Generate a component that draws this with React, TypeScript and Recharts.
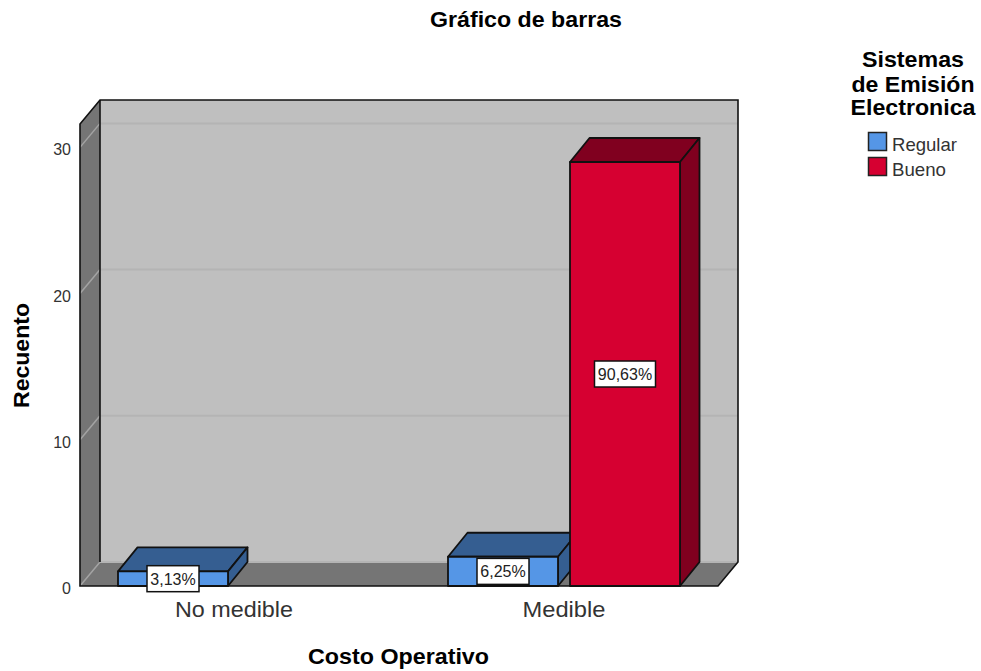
import { BarChart, Bar, XAxis, YAxis, Legend, LabelList, usePlotArea } from "recharts";

const categories = ["No medible", "Medible"];
const regularValues = [1, 2];
const buenoValues = [null, 29];
const regularLabels = ["3,13%", "6,25%"];
const buenoLabels = [null, "90,63%"];
const yTicks = [0, 10, 20, 30];
const yMax = 31.6;

const chartData = categories.map((name, i) => ({
    name,
    regular: regularValues[i],
    bueno: buenoValues[i],
    regularLabel: regularLabels[i],
    buenoLabel: buenoLabels[i],
}));

const SANS = "'Liberation Sans', Arial, sans-serif";
const BLUE = "#5596e6";
const BLUE_DARK = "#355e91";
const RED = "#d60031";
const RED_DARK = "#80001f";
const WALL = "#bfbfbf";
const SIDE = "#757575";
const DEPTH_X = 20;
const DEPTH_Y = 24;
const BAR_DEPTH_X = 19.5;
const BAR_DEPTH_Y = 24;
// the drawn frame sits a bit inside the band range
const INSET = 11;

// the original export has stretched text, so strings are fitted to their measured width
function Fit({ x, y, w, size, bold, color = "#000", anchor = "middle", rotate, children }: any) {
    return (
        <text
            x={x}
            y={y}
            textAnchor={anchor}
            fontFamily={SANS}
            fontSize={size}
            fontWeight={bold ? 700 : 400}
            fill={color}
            textLength={w}
            lengthAdjust="spacingAndGlyphs"
            transform={rotate ? `rotate(${rotate} ${x} ${y})` : undefined}
        >
            {children}
        </text>
    );
}

function Walls() {
    const plot = usePlotArea();
    if (!plot) return null;
    const left = plot.x + INSET;
    const right = plot.x + plot.width - INSET;
    const top = plot.y;
    const base = plot.y + plot.height;
    const yOf = (v: number) => base - (v / yMax) * plot.height;
    return (
        <g>
            <rect x={left + DEPTH_X} y={top - DEPTH_Y} width={right - left} height={base - top} fill={WALL} />
            <polygon
                points={`${left},${base} ${left},${top} ${left + DEPTH_X},${top - DEPTH_Y} ${left + DEPTH_X},${base - DEPTH_Y}`}
                fill={SIDE}
            />
            <polygon
                points={`${left},${base} ${left + DEPTH_X},${base - DEPTH_Y} ${right + DEPTH_X},${base - DEPTH_Y} ${right},${base}`}
                fill={SIDE}
            />
            {yTicks.map((v) => (
                <g key={v} fill="none">
                    <line
                        x1={left}
                        y1={yOf(v)}
                        x2={left + DEPTH_X}
                        y2={yOf(v) - DEPTH_Y}
                        stroke="#a3a3a3"
                        strokeWidth={1.5}
                    />
                    <line
                        x1={left + DEPTH_X}
                        y1={yOf(v) - DEPTH_Y}
                        x2={right + DEPTH_X}
                        y2={yOf(v) - DEPTH_Y}
                        stroke="#b4b4b4"
                        strokeWidth={2}
                    />
                </g>
            ))}
            <path
                d={`M${left},${base} V${top} L${left + DEPTH_X},${top - DEPTH_Y} H${right + DEPTH_X} V${base - DEPTH_Y} L${right},${base} Z`}
                fill="none"
                stroke="#111"
                strokeWidth={1.6}
            />
            <path
                d={`M${left + DEPTH_X},${top - DEPTH_Y} V${base - DEPTH_Y}`}
                fill="none"
                stroke="#111"
                strokeWidth={1.6}
            />
        </g>
    );
}

function Bar3D(props: any) {
    const { x, y, width, height, fill, dark } = props;
    if (!height) return null;
    const r = x + width;
    const b = y + height;
    const dx = BAR_DEPTH_X;
    const dy = BAR_DEPTH_Y;
    return (
        <g stroke="#111" strokeWidth={1.8} strokeLinejoin="round">
            <polygon points={`${x},${y} ${x + dx},${y - dy} ${r + dx},${y - dy} ${r},${y}`} fill={dark} />
            <polygon points={`${r},${y} ${r + dx},${y - dy} ${r + dx},${b - dy} ${r},${b}`} fill={dark} />
            <rect x={x} y={y} width={width} height={height} fill={fill} />
        </g>
    );
}

function PercentTag(props: any) {
    const { x, y, width, height, value } = props;
    if (!value) return null;
    const cx = x + width / 2;
    const cy = y + height / 2;
    const w = value.length > 5 ? 61 : 52;
    return (
        <g>
            <rect x={cx - w / 2} y={cy - 13} width={w} height={26} fill="#fff" stroke="#111" strokeWidth={1.5} />
            <text x={cx} y={cy + 6} textAnchor="middle" fontFamily={SANS} fontSize={16} fill="#222">
                {value}
            </text>
        </g>
    );
}

function YTick({ x, y, payload }: any) {
    return (
        <text x={x + 2} y={y + 8} textAnchor="end" fontFamily={SANS} fontSize={16} fill="#333">
            {payload.value}
        </text>
    );
}

const tickWidths: Record<string, number> = { "No medible": 118, Medible: 83 };

function XTick({ x, y, payload }: any) {
    return (
        <Fit x={x} y={y + 31} w={tickWidths[payload.value]} size={22} color="#333">
            {payload.value}
        </Fit>
    );
}

const legendTitle = [
    { text: "Sistemas", w: 102, y: 27 },
    { text: "de Emisión", w: 123, y: 52 },
    { text: "Electronica", w: 125, y: 75 },
];
const legendWidths = [65, 54];

function LegendBox({ payload }: any) {
    return (
        <svg width={131} height={145} style={{ display: "block" }}>
            {legendTitle.map((line) => (
                <Fit key={line.text} x={63} y={line.y} w={line.w} size={21.5} bold>
                    {line.text}
                </Fit>
            ))}
            {(payload ?? []).map((item: any, i: number) => (
                <g key={item.value}>
                    <rect
                        x={18.5}
                        y={92.5 + i * 25}
                        width={18}
                        height={18}
                        fill={item.color}
                        stroke="#222"
                        strokeWidth={1.5}
                    />
                    <Fit x={42} y={111 + i * 25} w={legendWidths[i]} size={18.5} anchor="start" color="#333">
                        {item.value}
                    </Fit>
                </g>
            ))}
        </svg>
    );
}

export default function App() {
    return (
        <div style={{ position: "absolute", left: 0, top: 0, width: 981, height: 671 }}>
            <BarChart
                width={981}
                height={671}
                data={chartData}
                margin={{ top: 124, right: 121, left: 0, bottom: 0 }}
                barSize={110}
                barGap={12}
            >
                <Walls />
                <XAxis
                    dataKey="name"
                    axisLine={false}
                    tickLine={false}
                    tickSize={0}
                    tickMargin={0}
                    height={85}
                    interval={0}
                    tick={<XTick />}
                />
                <YAxis
                    domain={[0, yMax]}
                    ticks={yTicks}
                    axisLine={false}
                    tickLine={false}
                    tickSize={0}
                    tickMargin={0}
                    width={69}
                    tick={<YTick />}
                />
                <Legend
                    layout="vertical"
                    align="right"
                    verticalAlign="top"
                    width={131}
                    itemSorter={null}
                    wrapperStyle={{ top: 40, right: 0, left: "auto" }}
                    content={<LegendBox />}
                />
                <Bar
                    dataKey="regular"
                    name="Regular"
                    fill={BLUE}
                    isAnimationActive={false}
                    shape={(p: any) => <Bar3D {...p} dark={BLUE_DARK} />}
                >
                    <LabelList dataKey="regularLabel" content={<PercentTag />} />
                </Bar>
                <Bar
                    dataKey="bueno"
                    name="Bueno"
                    fill={RED}
                    isAnimationActive={false}
                    shape={(p: any) => <Bar3D {...p} dark={RED_DARK} />}
                >
                    <LabelList dataKey="buenoLabel" content={<PercentTag />} />
                </Bar>
                <Fit x={526} y={27} w={192} size={22} bold>
                    Gráfico de barras
                </Fit>
                <Fit x={398.5} y={664} w={181} size={22} bold>
                    Costo Operativo
                </Fit>
                <Fit x={29} y={355.5} w={105} size={22} bold rotate={-90}>
                    Recuento
                </Fit>
            </BarChart>
        </div>
    );
}
